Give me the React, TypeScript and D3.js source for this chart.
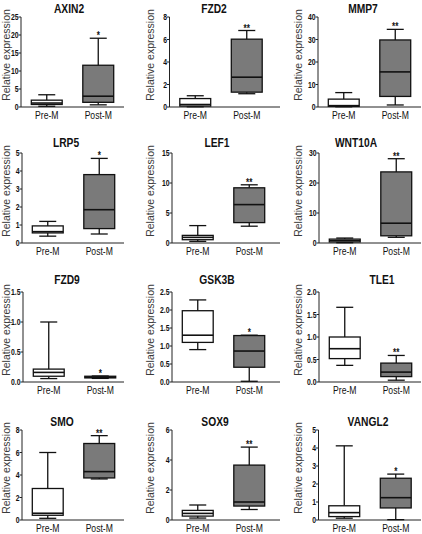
import React from "react";
import * as d3 from "d3";

const GENES = ["AXIN2", "FZD2", "MMP7", "LRP5", "LEF1", "WNT10A", "FZD9", "GSK3B", "TLE1", "SMO", "SOX9", "VANGL2"];
const GROUPS = ["Pre-M", "Post-M"];
const SIG = ["*", "**", "**", "*", "**", "**", "*", "*", "**", "**", "**", "*"];
const Y_MAX = [25, 8, 40, 5, 15, 30, 1.5, 2.5, 2.0, 8, 6, 5];
const Y_TICKS = [
  [0, 5, 10, 15, 20, 25],
  [0, 2, 4, 6, 8],
  [0, 10, 20, 30, 40],
  [0, 1, 2, 3, 4, 5],
  [0, 5, 10, 15],
  [0, 10, 20, 30],
  [0, 0.5, 1.0, 1.5],
  [0, 0.5, 1.0, 1.5, 2.0, 2.5],
  [0, 0.5, 1.0, 1.5, 2.0],
  [0, 2, 4, 6, 8],
  [0, 2, 4, 6],
  [0, 1, 2, 3, 4, 5],
];
const DECIMAL_TICKS = [false, false, false, false, false, false, true, true, true, false, false, false];
// [min, q1, median, q3, max]
const PRE_STATS = [
  [0.2, 0.7, 1.1, 1.9, 3.4],
  [0.02, 0.08, 0.22, 0.75, 1.0],
  [0.1, 0.3, 0.6, 3.5, 6.4],
  [0.38, 0.56, 0.63, 0.95, 1.2],
  [0.28, 0.55, 0.94, 1.27, 2.9],
  [0.1, 0.35, 0.8, 1.3, 1.65],
  [0.057, 0.096, 0.16, 0.215, 1.0],
  [0.9, 1.1, 1.3, 1.98, 2.28],
  [0.37, 0.52, 0.74, 1.0, 1.66],
  [0.15, 0.42, 0.6, 2.8, 6.0],
  [0.13, 0.26, 0.44, 0.64, 1.0],
  [0.1, 0.19, 0.41, 0.79, 4.12],
];
const POST_STATS = [
  [0.6, 1.3, 3.0, 11.6, 19.1],
  [1.18, 1.32, 2.65, 6.03, 6.8],
  [0.9, 4.7, 15.6, 29.8, 34.5],
  [0.5, 0.8, 1.85, 3.8, 4.7],
  [2.8, 3.4, 6.4, 9.2, 9.7],
  [1.9, 2.4, 6.6, 23.7, 28.1],
  [0.06, 0.068, 0.08, 0.096, 0.1],
  [0.02, 0.41, 0.86, 1.29, 1.3],
  [0.04, 0.12, 0.22, 0.42, 0.59],
  [3.65, 3.74, 4.3, 6.8, 7.5],
  [0.7, 0.93, 1.2, 3.66, 4.86],
  [0.02, 0.67, 1.24, 2.32, 2.55],
];

const AXIS_X = [21, 169.5, 318, 22, 172, 319, 23, 172, 319, 22, 172, 318.5];
const AXIS_END = [124, 280, 421];
const YLABEL_X = [9.5, 153.5, 301.5];
const ROW_Y0 = [107, 243, 382, 520];
const TITLE_BASE = [13, 147, 284, 426];
const TITLE_X = [69, 214, 363, 66, 217, 356, 67, 217, 382, 62, 215, 368];
const PLOT_H = 90;

const SANS = "'Liberation Sans', Arial, sans-serif";

function NText({ x, y, anchor, size, bold, children, dy, sq = 0.82 }: any) {
  return (
    <text
      transform={`translate(${x},${y}) scale(${sq},1)`}
      dy={dy}
      textAnchor={anchor}
      fontFamily={SANS}
      fontWeight={bold ? "bold" : "normal"}
      fontSize={size}
      fill="#111"
    >
      {children}
    </text>
  );
}

function Panel({ i }: { i: number }) {
  const col = i % 3;
  const row = Math.floor(i / 3);
  const ax = AXIS_X[i];
  const y0 = ROW_Y0[row];
  const y = d3.scaleLinear().domain([0, Y_MAX[i]]).range([y0, y0 - PLOT_H]);
  const x = d3.scaleBand().domain(GROUPS).range([ax, ax + 103]).paddingInner(0.4).paddingOuter(0.2);
  const bw = x.bandwidth();
  const capW = 17;
  const fmt = DECIMAL_TICKS[i] ? d3.format(".1f") : d3.format("d");
  const stats = [PRE_STATS[i], POST_STATS[i]];
  const fills = ["#ffffff", "#7a7a7a"];
  return (
    <g>
      <NText x={TITLE_X[i]} y={TITLE_BASE[row]} anchor="middle" size={12.5} bold>
        {GENES[i]}
      </NText>
      <text
        transform={`translate(${YLABEL_X[col]},${y0 - 52}) rotate(-90)`}
        textAnchor="middle"
        fontFamily={SANS}
        fontSize={10.5}
        fill="#3a3a3a"
      >
        Relative expression
      </text>
      {/* y axis */}
      <line x1={ax} x2={ax} y1={y0} y2={y(Y_MAX[i])} stroke="#222" strokeWidth={1} />
      {Y_TICKS[i].map((t) => (
        <g key={t}>
          <line x1={ax - 2.5} x2={ax} y1={y(t)} y2={y(t)} stroke="#222" strokeWidth={1} />
          <NText x={ax - 2.5} y={y(t)} dy="0.35em" anchor="end" size={9} bold sq={0.76}>
            {fmt(t)}
          </NText>
        </g>
      ))}
      {/* x axis */}
      <line x1={ax} x2={AXIS_END[col]} y1={y0} y2={y0} stroke="#222" strokeWidth={1} />
      {GROUPS.map((g, gi) => {
        const s = stats[gi];
        const cx = (x(g) as number) + bw / 2;
        const left = x(g) as number;
        return (
          <g key={g}>
            <line x1={cx} x2={cx} y1={y(s[4])} y2={y(s[3])} stroke="#111" strokeWidth={1.3} />
            <line x1={cx} x2={cx} y1={y(s[1])} y2={y(s[0])} stroke="#111" strokeWidth={1.3} />
            <line x1={cx - capW / 2} x2={cx + capW / 2} y1={y(s[4])} y2={y(s[4])} stroke="#111" strokeWidth={1.3} />
            <line x1={cx - capW / 2} x2={cx + capW / 2} y1={y(s[0])} y2={y(s[0])} stroke="#111" strokeWidth={1.3} />
            <rect x={left} y={y(s[3])} width={bw} height={y(s[1]) - y(s[3])} fill={fills[gi]} stroke="#111" strokeWidth={1.3} />
            <line x1={left} x2={left + bw} y1={y(s[2])} y2={y(s[2])} stroke="#111" strokeWidth={1.6} />
            <NText x={cx} y={y0 + 12.3} anchor="middle" size={10.5}>
              {g}
            </NText>
            {gi === 1 && (
              <NText x={cx} y={y(s[4]) + 1} anchor="middle" size={10} bold>
                {SIG[i]}
              </NText>
            )}
          </g>
        );
      })}
    </g>
  );
}

export default function App() {
  return (
    <svg width={422} height={534} style={{ position: "absolute", left: 0, top: 0, background: "#fff" }}>
      <rect width={422} height={534} fill="#fff" />
      {GENES.map((_, i) => (
        <Panel key={i} i={i} />
      ))}
    </svg>
  );
}
